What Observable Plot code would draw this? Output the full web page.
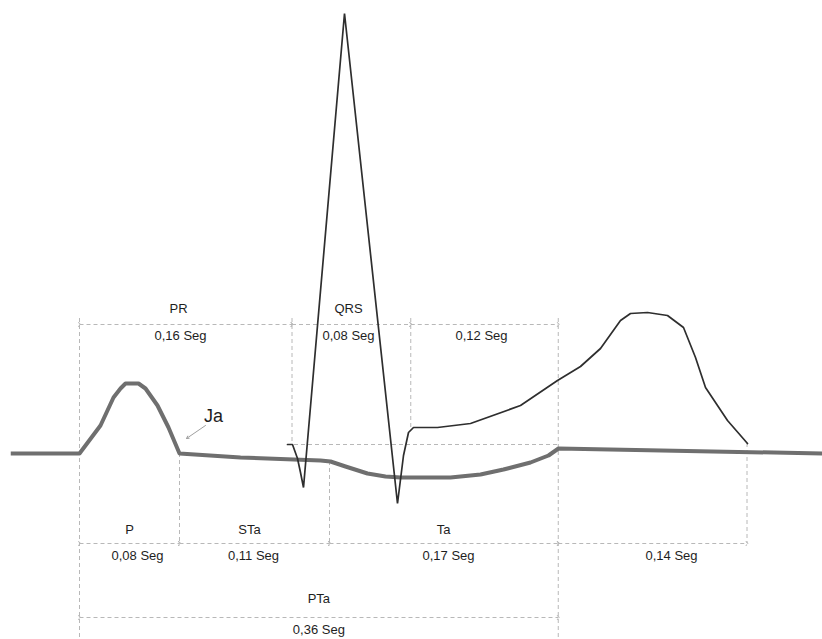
<!DOCTYPE html>
<html>
<head>
<meta charset="utf-8">
<script src="https://cdn.jsdelivr.net/npm/d3@7"></script>
<script src="https://cdn.jsdelivr.net/npm/@observablehq/plot@0.6"></script>
<style>
  html, body { margin: 0; padding: 0; background: #fff; }
  #chart svg { display: block; font-family: "Liberation Sans", Arial, Helvetica, sans-serif; }
</style>
</head>
<body>
<div id="chart"></div>
<script>
// Time in ms, amplitude in mV (diagram not to scale)
// Atrial trace (thick grey): P wave and atrial repolarisation (Ta)
const atrialT = [-55, 0, 16.8, 27.2, 32.8, 36.8, 47.2, 52.8, 62.4, 71.2, 80, 128.8, 192.8, 200.8, 212.8, 230.4, 244.8, 256.8, 296.8, 320.8, 339.2, 360.8, 375.2, 383.2, 594.4];
const atrialV = [0, 0, 0.112, 0.224, 0.26, 0.28, 0.28, 0.26, 0.192, 0.104, 0, -0.016, -0.028, -0.032, -0.052, -0.08, -0.092, -0.096, -0.096, -0.084, -0.064, -0.036, -0.008, 0.02, 0];

// Ventricular trace (thin dark): QRS complex and T wave
const ventT = [166.4, 170.4, 174.4, 176.8, 179.2, 212, 254.4, 259.2, 263.2, 267.2, 286.4, 312.8, 352.8, 382.4, 400.8, 416.8, 432.8, 440.8, 454.4, 470.4, 483.2, 492.8, 500.8, 518.4, 534.4];
const ventV = [0.036, 0.036, -0.02, -0.076, -0.136, 1.76, -0.2, -0.008, 0.084, 0.104, 0.104, 0.12, 0.192, 0.292, 0.348, 0.42, 0.532, 0.56, 0.564, 0.552, 0.504, 0.384, 0.264, 0.132, 0.04];

// Interval boundaries (ms)
const bounds = { pOn: 0, pOff: 80, qrsOn: 170, staEnd: 200, qrsOff: 265, taEnd: 383, tEnd: 534 };

// Upper intervals
const topNames   = ["PR", "QRS", ""];
const topValues  = ["0,16 Seg", "0,08 Seg", "0,12 Seg"];
const topFrom    = [bounds.pOn, bounds.qrsOn, bounds.qrsOff];
const topTo      = [bounds.qrsOn, bounds.qrsOff, bounds.taEnd];
const topNameAt  = [79.2, 215.2, 322];
const topValueAt = [80.8, 215.2, 321.6];

// Lower intervals
const lowNames   = ["P", "STa", "Ta", ""];
const lowValues  = ["0,08 Seg", "0,11 Seg", "0,17 Seg", "0,14 Seg"];
const lowFrom    = [bounds.pOn, bounds.pOff, bounds.staEnd, bounds.taEnd];
const lowTo      = [bounds.pOff, bounds.staEnd, bounds.taEnd, bounds.tEnd];
const lowNameAt  = [40, 136, 291.2, 473.6];
const lowValueAt = [46.4, 139.2, 295.2, 473.6];

// Total interval
const totName = "PTa", totValue = "0,36 Seg";
const totFrom = bounds.pOn, totTo = bounds.taEnd;

// Levels (mV) of annotation rows
const topArrowV = 0.516, topNameV = 0.58, topValueV = 0.47;
const lowArrowV = -0.36, lowNameV = -0.304, lowValueV = -0.41;
const totArrowV = -0.656, totNameV = -0.58, totValueV = -0.704;
const guideTop = 0.54, guideBottom = -0.744;

// Vertical guides
const guideT  = [bounds.pOn, bounds.pOff, bounds.qrsOn, bounds.staEnd, bounds.qrsOff, bounds.taEnd, bounds.tEnd];
const guideY1 = [guideTop, 0, guideTop, -0.032, guideTop, guideTop, 0.04];
const guideY2 = [guideBottom, lowArrowV, 0.036, lowArrowV, 0.104, guideBottom, lowArrowV];

// J point of atrial (Ja) label
const jaLabel = "Ja", jaT = 107.2, jaV = 0.148;
const jaArrow = { t1: 100.8, v1: 0.112, t2: 85.6, v2: 0.06 };

const atrial = atrialT.map((t, i) => ({ t, v: atrialV[i] }));
const vent = ventT.map((t, i) => ({ t, v: ventV[i] }));
const guides = guideT.map((t, i) => ({ t, y1: guideY1[i], y2: guideY2[i] }));
const topRows = topNames.map((n, i) => ({ name: n, value: topValues[i], from: topFrom[i], to: topTo[i], nAt: topNameAt[i], vAt: topValueAt[i] }));
const lowRows = lowNames.map((n, i) => ({ name: n, value: lowValues[i], from: lowFrom[i], to: lowTo[i], nAt: lowNameAt[i], vAt: lowValueAt[i] }));

const dashColor = "#b8b8b8";
const textStyle = { fontSize: 13, fill: "#1e1e1e", fontFamily: "Liberation Sans, Arial, sans-serif" };

const chart = Plot.plot({
  width: 822,
  height: 639,
  margin: 0,
  x: { axis: null, domain: [-63.2, 594.4] },
  y: { axis: null, domain: [-0.744, 1.812] },
  marks: [
    // vertical guides
    Plot.ruleX(guides, { x: "t", y1: "y1", y2: "y2", stroke: dashColor, strokeWidth: 1, strokeDasharray: "4,3" }),
    // horizontal guide at QRS onset level
    Plot.ruleY([0.036], { x1: bounds.qrsOn - 3.6, x2: bounds.taEnd, stroke: dashColor, strokeWidth: 1, strokeDasharray: "4,3" }),
    // interval arrows
    Plot.link(topRows, { x1: "from", x2: "to", y1: topArrowV, y2: topArrowV, stroke: dashColor, strokeWidth: 1, strokeDasharray: "4,3", markerStart: "arrow", markerEnd: "arrow" }),
    Plot.link(lowRows, { x1: "from", x2: "to", y1: lowArrowV, y2: lowArrowV, stroke: dashColor, strokeWidth: 1, strokeDasharray: "4,3", markerStart: "arrow", markerEnd: "arrow" }),
    Plot.link([{ from: totFrom, to: totTo }], { x1: "from", x2: "to", y1: totArrowV, y2: totArrowV, stroke: dashColor, strokeWidth: 1, strokeDasharray: "4,3", markerStart: "arrow", markerEnd: "arrow" }),
    // traces
    Plot.line(atrial, { x: "t", y: "v", stroke: "#6f6f6f", strokeWidth: 4, strokeLinejoin: "round", strokeLinecap: "butt" }),
    Plot.line(vent, { x: "t", y: "v", stroke: "#2e2e2e", strokeWidth: 1.7, strokeLinejoin: "miter" }),
    // labels
    Plot.text(topRows, { x: "nAt", y: topNameV, text: "name", ...textStyle }),
    Plot.text(topRows, { x: "vAt", y: topValueV, text: "value", ...textStyle }),
    Plot.text(lowRows, { x: "nAt", y: lowNameV, text: "name", ...textStyle }),
    Plot.text(lowRows, { x: "vAt", y: lowValueV, text: "value", ...textStyle }),
    Plot.text([totName], { x: (totFrom + totTo) / 2, y: totNameV, text: d => d, ...textStyle }),
    Plot.text([totValue], { x: (totFrom + totTo) / 2, y: totValueV, text: d => d, ...textStyle }),
    // Ja
    Plot.arrow([jaArrow], { x1: "t1", y1: "v1", x2: "t2", y2: "v2", stroke: "#a0a0a0", strokeWidth: 1, headLength: 4 }),
    Plot.text([jaLabel], { x: jaT, y: jaV, text: d => d, fontSize: 18, fill: "#1e1e1e", fontFamily: "Liberation Sans, Arial, sans-serif" })
  ]
});

document.getElementById("chart").appendChild(chart);
</script>
</body>
</html>
